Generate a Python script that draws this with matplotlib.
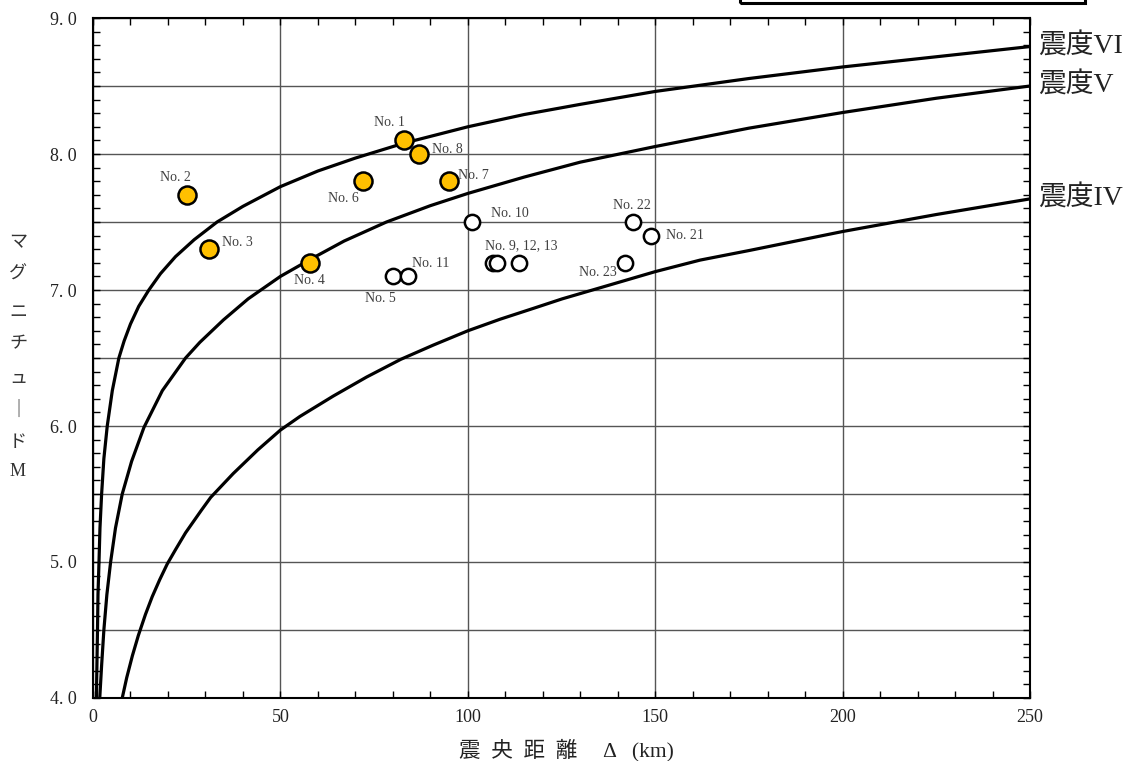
import matplotlib.pyplot as plt
from matplotlib.patches import Rectangle
from matplotlib.ticker import MultipleLocator, FuncFormatter

plt.rcParams['font.family'] = ['Liberation Serif', 'Noto Sans CJK JP', 'DejaVu Sans']
JP = ['Liberation Serif', 'Noto Sans CJK JP', 'DejaVu Sans']

# 震度境界線
vi_x = [0.9, 1.2, 1.33, 1.6, 1.86, 2.3, 2.9, 3.8, 5.15, 6.9, 8.3, 10.0, 12.2, 14.9, 18, 22, 27,
        33.1, 40, 50, 60, 70, 83, 100, 115, 130, 150, 175, 200, 225, 250]
vi_y = [4.0, 4.5, 4.76, 5.0, 5.25, 5.5, 5.76, 6.0, 6.26, 6.5, 6.625, 6.75, 6.88, 7.0, 7.12, 7.245,
        7.37, 7.5, 7.615, 7.76, 7.875, 7.97, 8.08, 8.2, 8.29, 8.365, 8.46, 8.555, 8.64, 8.715, 8.79]
v_x = [1.8, 2.3, 2.9, 3.7, 4.7, 6.0, 7.8, 10.3, 13.6, 18.5, 24.7, 28.5, 34.8, 41.4, 50, 58.3,
       67, 78.3, 90, 100, 115, 130, 150, 175, 200, 225, 250]
v_y = [4.0, 4.24, 4.5, 4.76, 5.0, 5.25, 5.5, 5.74, 5.99, 6.26, 6.5, 6.615, 6.78, 6.935, 7.1, 7.23,
       7.36, 7.5, 7.62, 7.71, 7.83, 7.94, 8.055, 8.19, 8.305, 8.41, 8.5]
iv_x = [7.8, 9.0, 10.5, 12.1, 14.0, 15.8, 17.8, 19.8, 22, 24.7, 28.9, 31.4, 37.4, 44, 50, 55.2,
        64.1, 73, 82.1, 90.8, 100, 108.6, 117.5, 125.2, 137, 150, 162, 175, 200, 225, 250]
iv_y = [4.0, 4.15, 4.31, 4.46, 4.615, 4.745, 4.87, 4.985, 5.09, 5.215, 5.38, 5.475, 5.65, 5.825,
        5.97, 6.07, 6.22, 6.36, 6.49, 6.595, 6.7, 6.785, 6.865, 6.935, 7.03, 7.135, 7.22, 7.29,
        7.43, 7.555, 7.67]
curve_names = ['震度VI', '震度V', '震度IV']

# 被害地震 (filled) and others (open)
hit_names = ['No. 1', 'No. 2', 'No. 3', 'No. 4', 'No. 6', 'No. 7', 'No. 8']
hit_dist = [83, 25, 31, 58, 72, 95, 87]
hit_mag = [8.1, 7.7, 7.3, 7.2, 7.8, 7.8, 8.0]

other_names = ['No. 5', 'No. 11', 'No. 10', 'No. 9, 12, 13', None, None, 'No. 22', 'No. 21', 'No. 23']
other_dist = [80, 84, 101, 106.6, 107.9, 113.7, 144, 149, 142]
other_mag = [7.1, 7.1, 7.5, 7.2, 7.2, 7.2, 7.5, 7.4, 7.2]

# label offsets in pixels (layout only)
hit_off = [(-15, 18), (-11, 17), (28, 7), (-1, -18), (-19, -17), (24, 6), (28, 5)]
other_off = [(-12, -22), (23, 13), (38, 9), (29, 17), None, None, (-1, 17), (33, 0), (-27, -10)]

fig = plt.figure(figsize=(11.32, 7.61), dpi=100)
ax = fig.add_axes([93 / 1132, 1 - 698 / 761, 937 / 1132, 680 / 761])

for cx, cy in [(vi_x, vi_y), (v_x, v_y), (iv_x, iv_y)]:
    ax.plot(cx, cy, color='black', lw=2.3, zorder=3, solid_joinstyle='round')

ax.plot(hit_dist, hit_mag, 'o', ms=13, mfc='#FFC000', mec='black', mew=1.8, zorder=5)
ax.plot(other_dist, other_mag, 'o', ms=11, mfc='white', mec='black', mew=1.8, zorder=5)

for name, x, y, off in zip(hit_names + other_names, hit_dist + other_dist,
                           hit_mag + other_mag, hit_off + other_off):
    if name is None:
        continue
    ax.annotate(name, (x, y), xytext=off, textcoords='offset pixels',
                ha='center', va='center', fontsize=10, color='#404040', zorder=6)

# labels at the right end of each curve
for name, cy in zip(curve_names, [vi_y, v_y, iv_y]):
    ax.annotate(name, (250, cy[-1]), xytext=(8, 0), textcoords='offset pixels',
                ha='left', va='center', fontsize=20, family=JP, color='#222222',
                annotation_clip=False)

ax.set_xlim(0, 250)
ax.set_ylim(4, 9)
ax.xaxis.set_major_locator(MultipleLocator(50))
ax.xaxis.set_minor_locator(MultipleLocator(10))
ax.yaxis.set_major_locator(MultipleLocator(0.5))
ax.yaxis.set_minor_locator(MultipleLocator(0.1))
ax.yaxis.set_major_formatter(FuncFormatter(
    lambda v, p: f'{v:.1f}'.replace('.', '. ') if abs(v - round(v)) < 1e-6 else ''))
ax.tick_params(which='both', direction='in', top=True, right=True, width=1.0)
ax.tick_params(which='major', length=5, labelsize=13, colors='black', labelcolor='#222222')
ax.tick_params(which='minor', length=5)
ax.tick_params(axis='y', pad=12)
ax.tick_params(axis='x', pad=8)
ax.grid(True, which='major', color='#555555', lw=1.0)
for s in ax.spines.values():
    s.set_linewidth(1.5)

# vertical axis title, stacked
ylab = ['マ', 'グ', 'ニ', 'チ', 'ュ', '｜', 'ド', 'M']
ylab_px = [243, 274, 312, 344, 378, 410, 442, 472]
for ch, yp in zip(ylab, ylab_px):
    fig.text(18 / 1132, 1 - yp / 761, ch, ha='center', va='center', fontsize=13,
             family=JP, color='#333333')

fig.text(566 / 1132, 1 - 750 / 761, '震  央  距  離     Δ   (km)', ha='center', va='center',
         fontsize=15.5, family=JP, color='#222222')

# legend frame cut off at the top
fig.add_artist(Rectangle((740 / 1132, 1 - 3 / 761), 345 / 1132, 0.05,
                         transform=fig.transFigure, fill=False, lw=2.2, ec='black'))

fig.savefig('out.png', dpi=100)
